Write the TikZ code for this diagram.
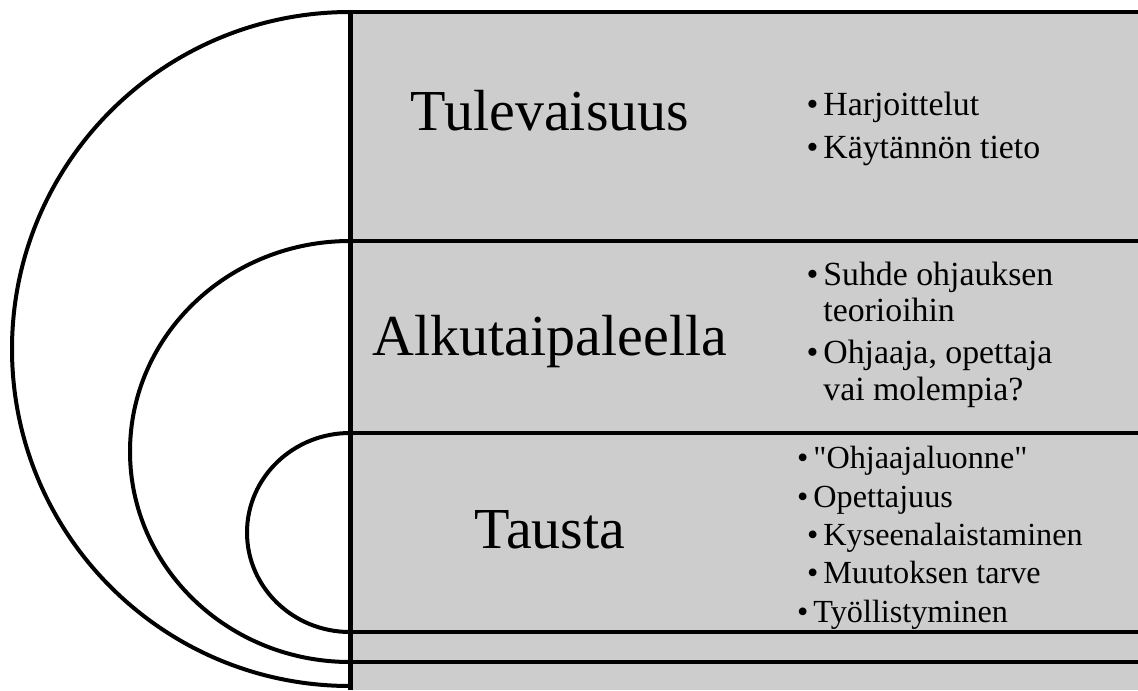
\documentclass[tikz,border=0pt]{standalone}
\usepackage{fontspec}
\setmainfont{Liberation Serif}[Ligatures=TeXOff]
\usepackage{tikz}
\usetikzlibrary{positioning,calc}
\definecolor{bandgray}{HTML}{CDCDCD}
\newcommand{\itembul}{\llap{\textbullet\hspace{2.5pt}}}
\tikzset{%
  band/.style={fill=bandgray},
  rule/.style={line width=2pt},
  ring/.style={line width=2pt}%
}

\begin{document}
\begin{tikzpicture}[
    x=0.5pt, y=-0.5pt,
    title/.style={
        anchor=base,
        inner sep=0pt,
        font=\fontsize{29}{33}\selectfont
    },
    item/.style={
        anchor=base west,
        inner sep=0pt,
        font=\fontsize{16.9}{19}\selectfont
    },
    subitem/.style={item, font=\fontsize{16.1}{18}\selectfont}
]
\useasboundingbox (0,0) rectangle (1138,690);

% Level boundaries on the spine
\coordinate (edge) at (1140,0);
\coordinate (l1) at (350,12);
\coordinate (l2) at (350,241);
\coordinate (l3) at (350,433);
\coordinate (l4) at (350,632);
\coordinate (l5) at (350,662);
\coordinate (bot) at (350,690);

% Grey bands
\fill[band] (l1) rectangle (bot -| edge);

% Band rules
\draw[rule] (l1) -- (l1 -| edge);
\draw[rule] (l2) -- (l2 -| edge);
\draw[rule] (l3) -- (l3 -| edge);
\draw[rule] (l4) -- (l4 -| edge);
\draw[rule] (l5) -- (l5 -| edge);
\draw[rule, line width=2.5pt] (l1) -- (bot);

% Nested half rings (each closes on the spine)
\draw[ring] (l1) arc[start angle=90, end angle=270, x radius=169pt, y radius=168.5pt];
\draw[ring] (l2) arc[start angle=90, end angle=270, x radius=110pt, y radius=105.25pt];
\draw[ring] (l3) arc[start angle=90, end angle=270, x radius=51.5pt, y radius=49.75pt];

% Titles
\node[title] (future) at (550,130) {Tulevaisuus};
\node[title] (start)  at (550,355) {Alkutaipaleella};
\node[title] (back)   at (550,548) {Tausta};

% Future items
\node[item] (f1) at (823,115) {\itembul Harjoittelut};
\node[item] (f2) at (823,158) {\itembul Käytännön tieto};

% Start items
\node[item] (s1)  at (823,285) {\itembul Suhde ohjauksen};
\node[item] (s1b) at (823,321) {teorioihin};
\node[item] (s2)  at (823,363) {\itembul Ohjaaja, opettaja};
\node[item] (s2b) at (823,400) {vai molempia?};

% Background items
\node[subitem] (b1)  at (813,468) {\itembul"Ohjaajaluonne"};
\node[subitem] (b2)  at (813,507) {\itembul Opettajuus};
\node[subitem] (b2a) at (823,545) {\itembul Kyseenalaistaminen};
\node[subitem] (b2b) at (823,583) {\itembul Muutoksen tarve};
\node[subitem] (b3)  at (813,622) {\itembul Työllistyminen};

\end{tikzpicture}
\end{document}
